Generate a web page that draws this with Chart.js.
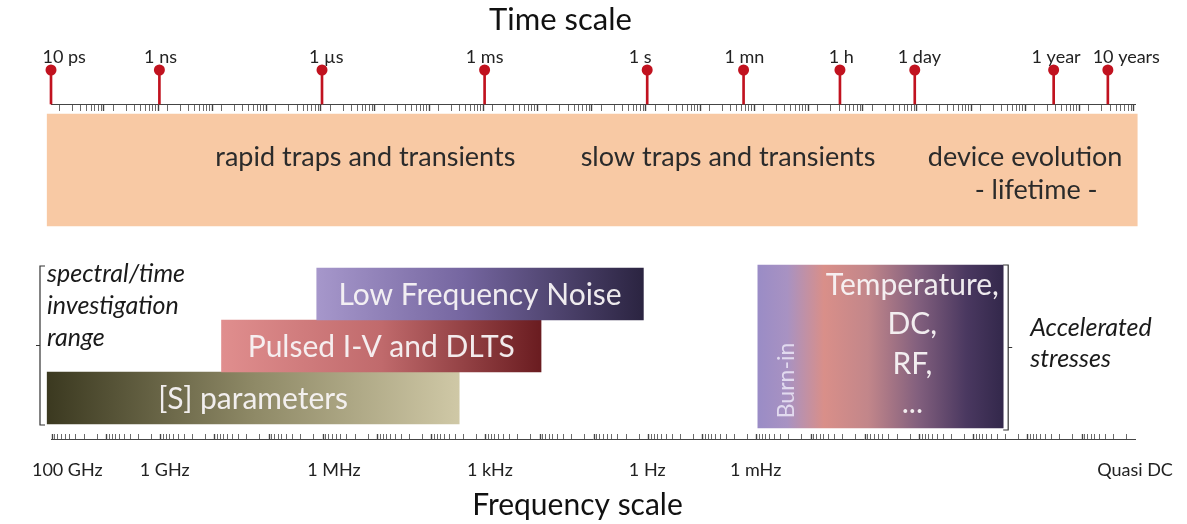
<!DOCTYPE html>
<html>
<head>
<meta charset="utf-8">
<title>Time and frequency scales</title>
<script src="https://cdn.jsdelivr.net/npm/chart.js@4.4.1/dist/chart.umd.min.js"></script>
<style>
  html, body { margin: 0; padding: 0; background: #fff; }
  #wrap { position: relative; width: 1187px; height: 524px; }
</style>
</head>
<body>
<div id="wrap"><canvas id="chart"></canvas></div>
<script>
// time scale markers (seconds) and where each label sits in the picture
const timeLabels = ['10 ps', '1 ns', '1 µs', '1 ms', '1 s', '1 mn', '1 h', '1 day', '1 year', '10 years'];
const timeSeconds = [1e-11, 1e-9, 1e-6, 1e-3, 1, 60, 3600, 86400, 3.156e7, 3.156e8];
const timeLabelAt = [1.75e-11, 1.05e-9, 1.2e-6, 1e-3, 0.74, 62, 3.8e3, 1.05e5, 3.5e7, 6.9e8];

// frequency scale labels and where the picture puts them (Hz)
const freqLabels = ['100 GHz', '1 GHz', '1 MHz', '1 kHz', '1 Hz', '1 mHz', 'Quasi DC'];
const freqLabelAt = [5e10, 8e8, 6e5, 8e2, 1, 1e-2, 1e-9];

// investigation techniques and the time span they cover (seconds)
const methods = ['Low Frequency Noise', 'Pulsed I-V and DLTS', '[S] parameters'];
const methodFrom = [8e-7, 1.4e-8, 8.5e-12];
const methodTo = [0.85, 1.1e-2, 3.4e-4];

// phenomena written on the orange band (seconds)
const phenomena = ['rapid traps and transients', 'slow traps and transients', 'device evolution', '- lifetime -'];
const phenomenaAt = [6.3e-6, 31, 9.4e6, 1.5e7];
const bandSpan = [8.5e-12, 1.1e9];

// accelerated stresses block (seconds)
const stressLines = ['Temperature,', 'DC,', 'RF,', '...'];
const stressSpan = [110, 3.7e6];
const stressTextAt = 7.8e4;
const burnInAt = 380;

// ---- layout (rows on the hidden y axis, pixel-like units) ----
const Y = {
  timeLabel: 43, dot: 70, timeAxis: 104, band: 170, band2: 190,
  rows: [294, 346, 398], stress: 346.5, freqAxis: 439, freqLabel: 456
};
const FONT = 'Lato, "Open Sans", sans-serif';
const RED = '#c1121f';

Chart.defaults.font.family = FONT;

function decadeTicks(lo, hi) {
  const out = [];
  for (let e = lo; e < hi; e++) {
    for (let k = 1; k < 10; k++) out.push({ value: k * Math.pow(10, e), major: k === 1 });
  }
  out.push({ value: Math.pow(10, hi), major: true });
  return out;
}

function hGradient(stops, from, to) {
  return (c) => {
    const chart = c.chart;
    const xs = chart.scales.x;
    const x0 = xs ? xs.getPixelForValue(from) : NaN;
    const x1 = xs ? xs.getPixelForValue(to) : NaN;
    if (!chart.chartArea || !isFinite(x0) || !isFinite(x1)) return stops[0][1];
    const g = chart.ctx.createLinearGradient(x0, 0, x1, 0);
    stops.forEach(([o, col]) => g.addColorStop(o, col));
    return g;
  };
}

const methodStops = [
  [[0, '#a697cb'], [0.45, '#7566a0'], [1, '#2b2441']],
  [[0, '#e08e8e'], [0.5, '#c06a6c'], [1, '#6a1c20']],
  [[0, '#3b3920'], [0.5, '#8e8966'], [1, '#cfc8a6']]
];
const stressStops = [[0, '#9a8cc6'], [0.12, '#a892c2'], [0.27, '#d98f89'], [0.45, '#c2868a'],
  [0.65, '#83607e'], [0.85, '#4a3860'], [1, '#33284b']];

const hBar = (label, span, row, thickness, color) => ({
  type: 'bar', label, indexAxis: 'y', grouped: false, clip: false,
  data: [{ y: row, x: span }], barThickness: thickness,
  backgroundColor: color, borderWidth: 0
});

const datasets = [
  hBar('band', bandSpan, Y.band, 112, '#f8c9a4'),
  ...methods.map((m, i) => hBar(m, [methodFrom[i], methodTo[i]], Y.rows[i], 52,
    hGradient(methodStops[i], methodFrom[i], methodTo[i]))),
  hBar('stresses', stressSpan, Y.stress, 163, hGradient(stressStops, stressSpan[0], stressSpan[1])),
  {
    type: 'bar', label: 'stems', indexAxis: 'x', grouped: false, clip: false,
    data: timeSeconds.map(t => ({ x: t, y: [Y.dot, Y.timeAxis] })),
    barThickness: 2, backgroundColor: RED
  },
  {
    type: 'scatter', label: 'markers', clip: false,
    data: timeSeconds.map(t => ({ x: t, y: Y.dot })),
    pointRadius: 5.5, pointBackgroundColor: RED, pointBorderWidth: 0
  }
];

const diagramText = {
  id: 'diagramText',
  afterDatasetsDraw(chart) {
    const { ctx } = chart;
    const xs = chart.scales.x, ys = chart.scales.y;
    const px = v => xs.getPixelForValue(v);
    const py = v => ys.getPixelForValue(v);
    ctx.save();
    ctx.textAlign = 'center';
    ctx.textBaseline = 'middle';

    // scale titles (slightly left of centre in the original)
    ctx.fillStyle = '#111';
    ctx.font = '31px ' + FONT;
    ctx.fillText('Time scale', chart.width / 2 - 33, 20);
    ctx.font = '30px ' + FONT;
    ctx.fillText('Frequency scale', chart.width / 2 - 16, 505);

    // phenomena on the band
    ctx.fillStyle = '#2b2b2b';
    ctx.font = '27px ' + FONT;
    phenomena.forEach((t, i) => {
      ctx.fillText(t, px(phenomenaAt[i]), py(i < 3 ? Y.band - 13 : Y.band2));
    });

    // technique labels inside their bars
    ctx.fillStyle = 'rgba(248,244,246,0.95)';
    ctx.font = '30px ' + FONT;
    methods.forEach((m, i) => {
      const el = chart.getDatasetMeta(i + 1).data[0];
      const c = el.getCenterPoint();
      ctx.fillText(m, c.x, c.y + 1);
    });

    // stresses block
    const sTop = py(Y.stress) - 163 / 2;
    stressLines.forEach((t, i) => {
      ctx.fillText(t, px(stressTextAt), sTop + 20 + i * 39.5);
    });
    ctx.save();
    ctx.translate(px(burnInAt), py(Y.stress) + 34);
    ctx.rotate(-Math.PI / 2);
    ctx.fillStyle = 'rgba(232,226,244,0.9)';
    ctx.font = '23px ' + FONT;
    ctx.fillText('Burn-in', 0, 0);
    ctx.restore();

    // brackets and italic notes
    ctx.strokeStyle = '#333';
    ctx.lineWidth = 1.2;
    const top = py(Y.rows[0]) - 28, bot = py(Y.rows[2]) + 27;
    const lx = xs.left - 11;
    ctx.beginPath();
    ctx.moveTo(lx + 5, top); ctx.lineTo(lx, top); ctx.lineTo(lx, bot); ctx.lineTo(lx + 5, bot);
    ctx.moveTo(lx, (top + bot) / 2); ctx.lineTo(lx - 4, (top + bot) / 2);
    const rx = px(stressSpan[1]) + 5;
    const rTop = sTop, rBot = sTop + 165;
    ctx.moveTo(rx - 5, rTop); ctx.lineTo(rx, rTop); ctx.lineTo(rx, rBot); ctx.lineTo(rx - 5, rBot);
    ctx.moveTo(rx, (rTop + rBot) / 2); ctx.lineTo(rx + 4, (rTop + rBot) / 2);
    ctx.stroke();

    ctx.fillStyle = '#1a1a1a';
    ctx.font = 'italic 25px ' + FONT;
    ctx.textAlign = 'left';
    ['spectral/time', 'investigation', 'range'].forEach((t, i) => {
      ctx.fillText(t, lx + 7, top + 8 + i * 32);
    });
    ['Accelerated', 'stresses'].forEach((t, i) => {
      ctx.fillText(t, rx + 22, (rTop + rBot) / 2 - 20 + i * 31);
    });
    ctx.restore();
  }
};

// axes placed on a row of the y axis take no room in the layout
const noRoom = s => { s.height = 0; };

const tickAxis = (extra) => Object.assign({
  type: 'logarithmic',
  afterFit: noRoom,
  ticks: { display: false },
  border: { display: true, color: '#444', width: 1 },
  grid: {
    drawOnChartArea: false, drawTicks: true, tickLength: 6, tickColor: '#444',
    tickWidth: c => (c.tick && c.tick.major ? 1.4 : 0.8)
  }
}, extra);

const labelAxis = (extra, values, labels) => Object.assign({
  type: 'logarithmic',
  afterFit: noRoom,
  border: { display: false },
  grid: { display: false, drawTicks: false },
  afterBuildTicks: s => { s.ticks = values.map(v => ({ value: v })); },
  ticks: {
    autoSkip: false, maxRotation: 0, minRotation: 0, padding: 3,
    color: '#222', font: { size: 18 },
    callback: (v, i) => labels[i]
  }
}, extra);

const freqAxis = tickAxis({
  axis: 'x', reverse: true, min: 1e-9, max: 1e11, position: { y: Y.freqAxis },
  afterBuildTicks: s => { s.ticks = decadeTicks(-9, 11); }
});
freqAxis.grid = Object.assign({}, freqAxis.grid, { tickLength: -6 }); // ticks point up

new Chart(document.getElementById('chart'), {
  type: 'bar',
  data: { datasets },
  options: {
    responsive: true,
    maintainAspectRatio: false,
    animation: false,
    layout: { padding: { left: 51, right: 52, top: 40, bottom: 39 } },
    plugins: {
      legend: { display: false },
      tooltip: { enabled: false },
      title: { display: false },
      subtitle: { display: false }
    },
    scales: {
      x: tickAxis({
        min: 1e-11, max: 1e9, position: { y: Y.timeAxis },
        afterBuildTicks: s => { s.ticks = decadeTicks(-11, 9); }
      }),
      xFreq: freqAxis,
      xTime: labelAxis({ axis: 'x', min: 1e-11, max: 1e9, position: { y: Y.timeLabel } }, timeLabelAt, timeLabels),
      xFreqLabel: labelAxis({ axis: 'x', reverse: true, min: 1e-9, max: 1e11, position: { y: Y.freqLabel } }, freqLabelAt, freqLabels),
      y: { type: 'linear', display: false, reverse: true, offset: false, min: 40, max: 485 }
    }
  },
  plugins: [diagramText]
});
</script>
</body>
</html>
